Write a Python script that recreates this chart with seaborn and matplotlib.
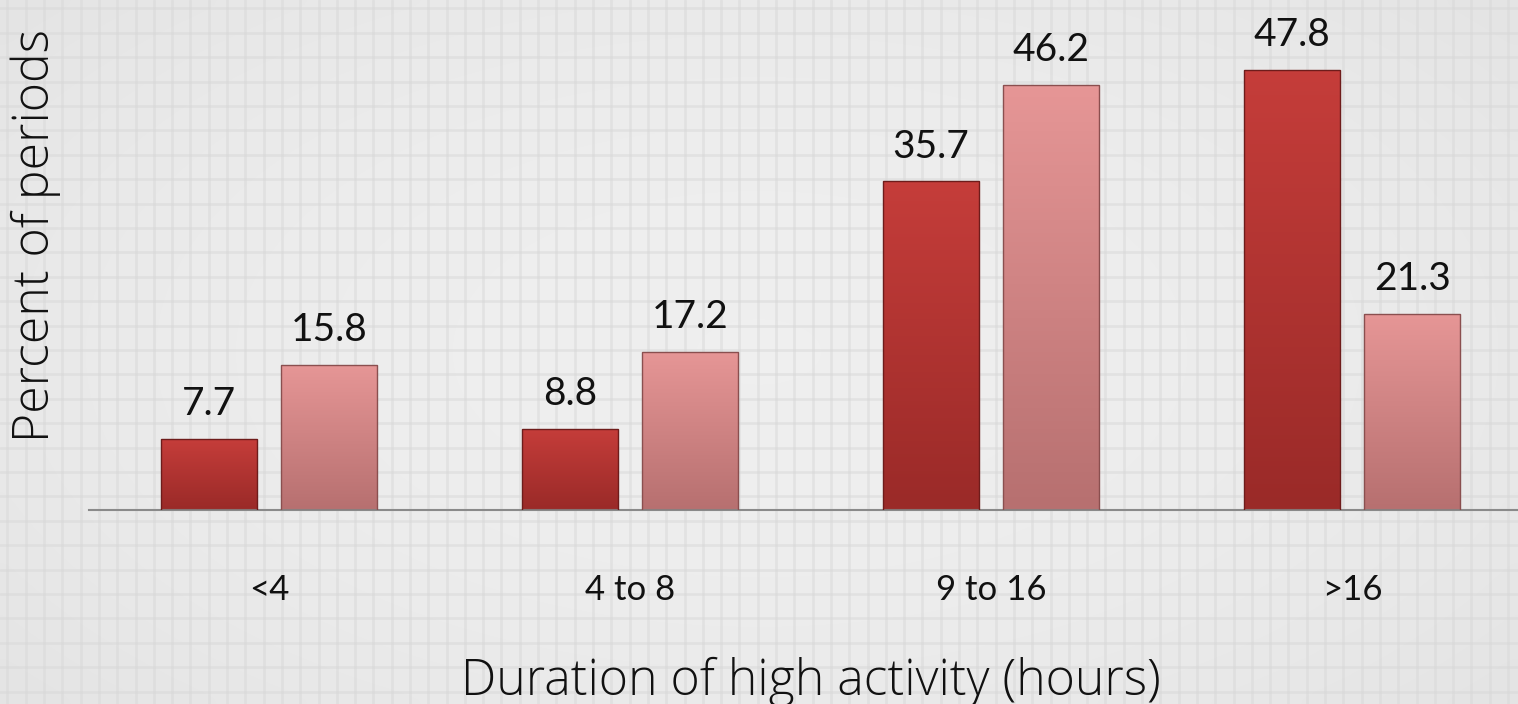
import numpy as np
import pandas as pd
import matplotlib
matplotlib.use('Agg')
import matplotlib.pyplot as plt
import matplotlib.ticker as mtick
from matplotlib.colors import LinearSegmentedColormap
import seaborn as sns

sns.set_style('white')
plt.rcParams['font.family'] = ['Lato', 'DejaVu Sans']

# data
categories = ['<4', '4 to 8', '9 to 16', '>16']
series_names = ['Group A', 'Group B']
group_a = [7.7, 8.8, 35.7, 47.8]
group_b = [15.8, 17.2, 46.2, 21.3]

df = pd.DataFrame({
    'duration': categories * 2,
    'series': [series_names[0]] * 4 + [series_names[1]] * 4,
    'percent': group_a + group_b,
})

W, H = 1518, 704
fig = plt.figure(figsize=(W / 100, H / 100), dpi=100)
fig.patch.set_facecolor('#ececec')

# textured background: soft grid + light vignette
bg = fig.add_axes([0, 0, 1, 1], zorder=-1)
bg.set_xlim(0, W)
bg.set_ylim(0, H)
yy, xx = np.mgrid[0:1:60j, 0:1:120j]
vign = 1 - 0.5 * (((xx - 0.5) / 0.7) ** 2 + ((yy - 0.5) / 0.8) ** 2)
bg.imshow(vign, extent=(0, W, 0, H), cmap=LinearSegmentedColormap.from_list('v', ['#e4e4e4', '#efefef']),
          aspect='auto', interpolation='bicubic', zorder=0)
bg.xaxis.set_major_locator(mtick.MultipleLocator(18.3, offset=7.4))
bg.yaxis.set_major_locator(mtick.MultipleLocator(24.4, offset=12.4))
bg.grid(True, color='#d8d8d8', linewidth=2.0, alpha=0.5)
bg.set_axisbelow(False)
bg.tick_params(length=0, labelbottom=False, labelleft=False)
for s in bg.spines.values():
    s.set_visible(False)

ax = fig.add_axes([88.5 / W, 194 / H, 1444 / W, 510 / H])
ax.set_facecolor('none')
sns.barplot(data=df, x='duration', y='percent', hue='series', order=categories,
            palette=['#b53230', '#d88282'], width=0.665, gap=0.2, legend=False,
            edgecolor='none', ax=ax)

# vertical gradient on each bar, clipped to the bar
grads = [('#c53d3a', '#9a2a28', '#6e1c1b'), ('#e69696', '#b77070', '#8a4f4f')]
for i, cont in enumerate(ax.containers):
    cmap = LinearSegmentedColormap.from_list('g%d' % i, [grads[i][1], grads[i][0]])
    for p in cont.patches:
        x0, y0, w, h = p.get_x(), p.get_y(), p.get_width(), p.get_height()
        im = ax.imshow(np.linspace(0, 1, 100).reshape(-1, 1), extent=(x0, x0 + w, y0, y0 + h),
                       origin='lower', cmap=cmap, aspect='auto', zorder=2.5)
        im.set_clip_path(p)
        p.set_edgecolor(grads[i][2])
        p.set_linewidth(1.0)
        p.set_zorder(2.6)
        p.set_facecolor('none')
    ax.bar_label(cont, fmt='%.1f', padding=12, fontsize=28, color='#111111', zorder=3)
ax.set_xlim(-0.5, 3.5)
ax.set_ylim(0, 55.4)

for s in ['top', 'right', 'left']:
    ax.spines[s].set_visible(False)
ax.spines['bottom'].set_color('#8a8a8a')
ax.spines['bottom'].set_linewidth(1.5)
ax.set_yticks([])
ax.tick_params(axis='x', length=0, pad=46, labelsize=25, labelcolor='#111111')

label_font = ['Open Sans', 'DejaVu Sans']
ax.set_xlabel('Duration of high activity (hours)', fontsize=36, color='#111111', va='baseline',
              family=label_font, fontweight='light')
ax.xaxis.set_label_coords(0.5, -(695 - 510) / 510)
ax.set_ylabel('Percent of periods', fontsize=36, color='#111111', va='center',
              family=label_font, fontweight='light')
ax.yaxis.set_label_coords((36 - 88.5) / 1444, (510 - 235) / 510)

plt.savefig('out.png', dpi=100, facecolor=fig.get_facecolor())
plt.close()
